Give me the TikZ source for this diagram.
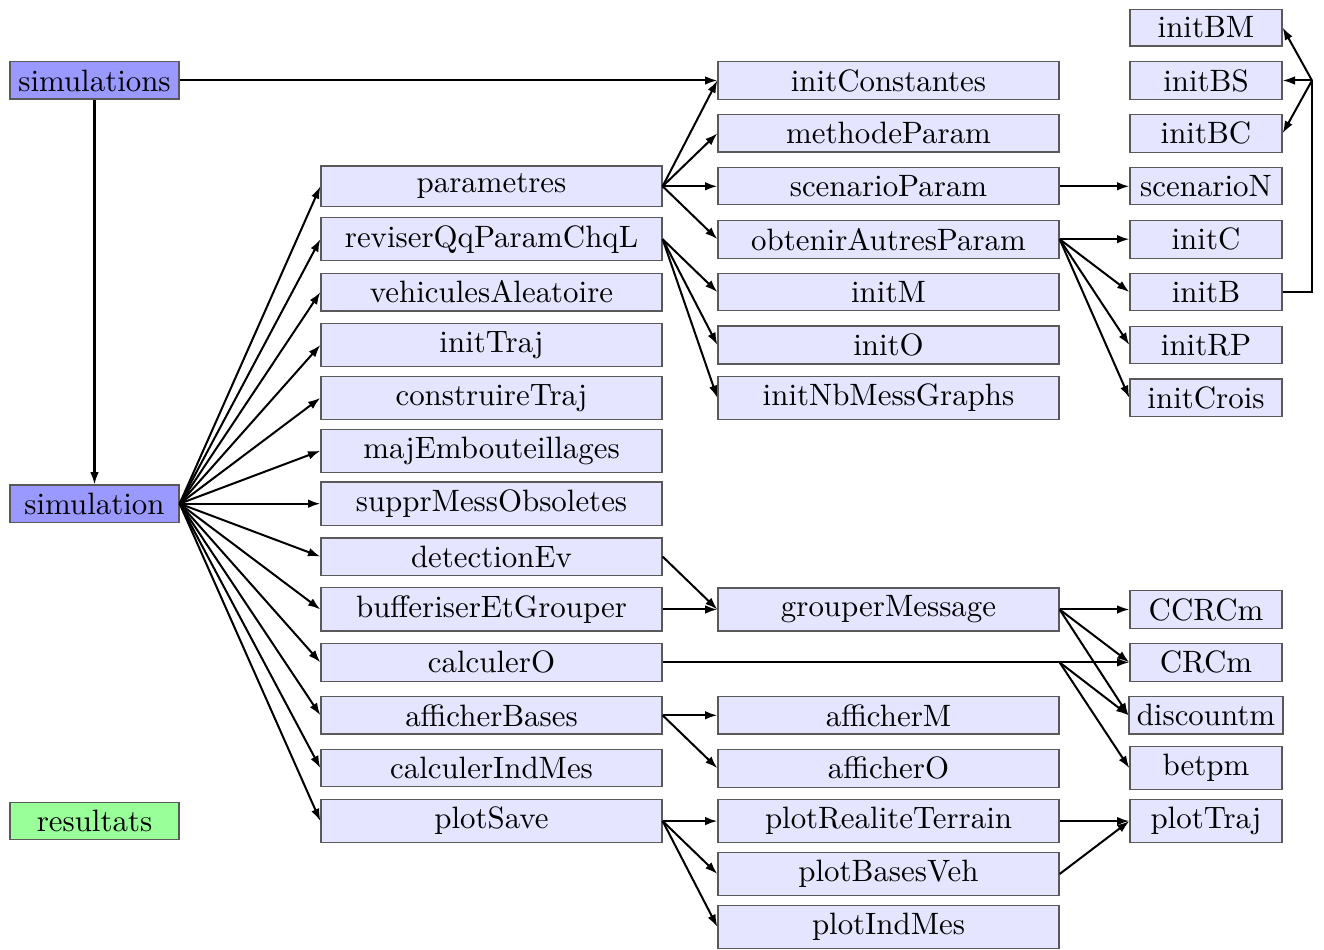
\documentclass[tikz,border=0pt]{standalone}
\usetikzlibrary{arrows.meta}
\begin{document}
\begin{tikzpicture}[x=0.3236pt,y=-0.3236pt,
  box/.style={draw=black!65, fill=blue!10, inner sep=2.5pt, line width=0.4pt},
  cone/.style={box, minimum width=54.7pt},
  ctwo/.style={box, minimum width=110.35pt},
  cfour/.style={box, minimum width=49.2pt},
  arr/.style={-{Latex[length=4pt,width=2.8pt]}, line width=0.65pt},
  link/.style={line width=0.65pt}]
\useasboundingbox (0,0) rectangle (1324,950);
% column 1
\node[cone, fill=blue!40] (simulations) at (94.5,80.5) {simulations};
\node[cone, fill=blue!40] (simulation) at (94.5,503.7) {simulation};
\node[cone, fill=green!40] (resultats) at (94.5,821.1) {resultats};
% column 2
\node[ctwo] (parametres) at (491.5,186.3) {parametres};
\node[ctwo] (reviser) at (491.5,239.2) {reviserQqParamChqL};
\node[ctwo] (vehicules) at (491.5,292.1) {vehiculesAleatoire};
\node[ctwo] (initTraj) at (491.5,345.0) {initTraj};
\node[ctwo] (construireTraj) at (491.5,397.9) {construireTraj};
\node[ctwo] (majEmb) at (491.5,450.8) {majEmbouteillages};
\node[ctwo] (suppr) at (491.5,503.7) {supprMessObsoletes};
\node[ctwo] (detectionEv) at (491.5,556.6) {detectionEv};
\node[ctwo] (bufferiser) at (491.5,609.5) {bufferiserEtGrouper};
\node[ctwo] (calculerO) at (491.5,662.4) {calculerO};
\node[ctwo] (afficherBases) at (491.5,715.3) {afficherBases};
\node[ctwo] (calculerIndMes) at (491.5,768.2) {calculerIndMes};
\node[ctwo] (plotSave) at (491.5,821.1) {plotSave};
% column 3
\node[ctwo] (initConstantes) at (888.5,80.5) {initConstantes};
\node[ctwo] (methodeParam) at (888.5,133.4) {methodeParam};
\node[ctwo] (scenarioParam) at (888.5,186.3) {scenarioParam};
\node[ctwo] (obtenir) at (888.5,239.2) {obtenirAutresParam};
\node[ctwo] (initM) at (888.5,292.1) {initM};
\node[ctwo] (initO) at (888.5,345.0) {initO};
\node[ctwo] (initNb) at (888.5,397.9) {initNbMessGraphs};
\node[ctwo] (grouper) at (888.5,609.5) {grouperMessage};
\node[ctwo] (afficherM) at (888.5,715.3) {afficherM};
\node[ctwo] (afficherO) at (888.5,768.2) {afficherO};
\node[ctwo] (plotRealite) at (888.5,821.1) {plotRealiteTerrain};
\node[ctwo] (plotBasesVeh) at (888.5,874.0) {plotBasesVeh};
\node[ctwo] (plotIndMes) at (888.5,926.9) {plotIndMes};
% column 4
\node[cfour] (initBM) at (1206,27.6) {initBM};
\node[cfour] (initBS) at (1206,80.5) {initBS};
\node[cfour] (initBC) at (1206,133.4) {initBC};
\node[cfour] (scenarioN) at (1206,186.3) {scenarioN};
\node[cfour] (initC) at (1206,239.2) {initC};
\node[cfour] (initB) at (1206,292.1) {initB};
\node[cfour] (initRP) at (1206,345.0) {initRP};
\node[cfour] (initCrois) at (1206,397.9) {initCrois};
\node[cfour] (CCRCm) at (1206,609.5) {CCRCm};
\node[cfour] (CRCm) at (1206,662.4) {CRCm};
\node[cfour] (discountm) at (1206,715.3) {discountm};
\node[cfour] (betpm) at (1206,768.2) {betpm};
\node[cfour] (plotTraj) at (1206,821.1) {plotTraj};
% coordinates
\coordinate (spine) at (1312,80.5);
\coordinate (cofan) at (grouper.east |- calculerO.east);
% connectors
\draw[arr] (simulations.east) -- (initConstantes.west);
\draw[arr] (simulations.south) -- (simulation.north);
\foreach \t in {parametres,reviser,vehicules,initTraj,construireTraj,majEmb,suppr,detectionEv,bufferiser,calculerO,afficherBases,calculerIndMes,plotSave}
  \draw[arr] (simulation.east) -- (\t.west);
\foreach \t in {initConstantes,methodeParam,scenarioParam,obtenir}
  \draw[arr] (parametres.east) -- (\t.west);
\foreach \t in {initM,initO,initNb}
  \draw[arr] (reviser.east) -- (\t.west);
\draw[arr] (scenarioParam.east) -- (scenarioN.west);
\foreach \t in {initC,initB,initRP,initCrois}
  \draw[arr] (obtenir.east) -- (\t.west);
\draw[link] (initB.east) -- (initB.east -| spine) -- (spine);
\foreach \t in {initBM,initBS,initBC}
  \draw[arr] (spine) -- (\t.east);
\draw[arr] (detectionEv.east) -- (grouper.west);
\draw[arr] (bufferiser.east) -- (grouper.west);
\foreach \t in {CCRCm,CRCm,discountm}
  \draw[arr] (grouper.east) -- (\t.west);
\draw[link] (calculerO.east) -- (cofan);
\foreach \t in {CRCm,discountm,betpm}
  \draw[arr] (cofan) -- (\t.west);
\foreach \t in {afficherM,afficherO}
  \draw[arr] (afficherBases.east) -- (\t.west);
\foreach \t in {plotRealite,plotBasesVeh,plotIndMes}
  \draw[arr] (plotSave.east) -- (\t.west);
\draw[arr] (plotRealite.east) -- (plotTraj.west);
\draw[arr] (plotBasesVeh.east) -- (plotTraj.west);
\end{tikzpicture}
\end{document}
